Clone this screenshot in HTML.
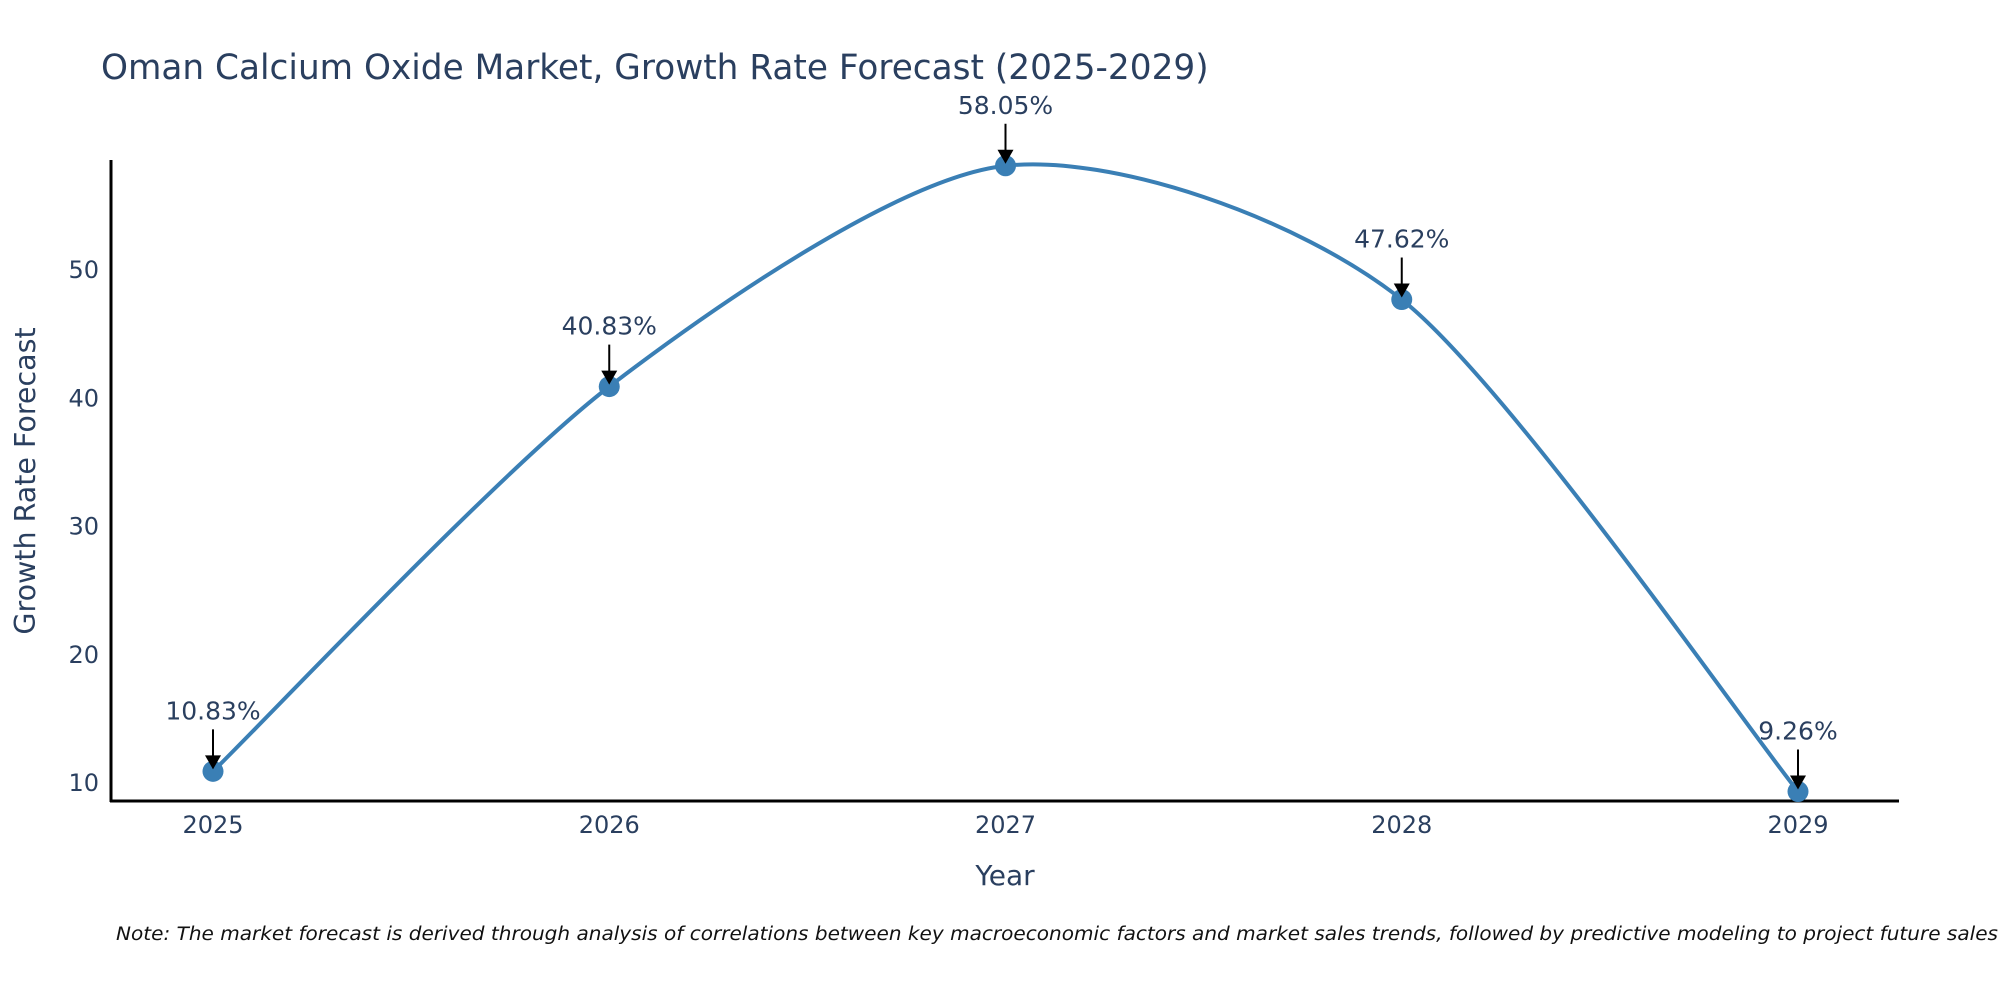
<!DOCTYPE html>
<html><head><meta charset="utf-8"><style>
html,body{margin:0;padding:0;background:#fff;}
svg{display:block;font-family:"DejaVu Sans","Liberation Sans",sans-serif;}
</style></head><body>
<svg id="chart" width="2000" height="1000" viewBox="0 0 2000 1000">
<text x="101" y="79" font-size="34.3" fill="#2a3f5f">Oman Calcium Oxide Market, Growth Rate Forecast (2025-2029)</text>
<g id="yticks"></g>
<g id="xticks"></g>
<line x1="111" y1="160" x2="111" y2="802" stroke="#000" stroke-width="3"/>
<line x1="110" y1="801" x2="1899" y2="801" stroke="#000" stroke-width="3"/>
<path id="line" fill="none" stroke="#3a7fb5" stroke-width="4"/>
<g id="points"></g>
<g id="annots"></g>
<text x="1005" y="885" font-size="28" fill="#2a3f5f" text-anchor="middle">Year</text>
<text transform="translate(35,481) rotate(-90)" font-size="28.5" fill="#2a3f5f" text-anchor="middle">Growth Rate Forecast</text>
<text x="116" y="940" font-size="18.5" font-style="italic" fill="#111" textLength="1882" lengthAdjust="spacingAndGlyphs">Note: The market forecast is derived through analysis of correlations between key macroeconomic factors and market sales trends, followed by predictive modeling to project future sales</text>
</svg>
<script>
const years = ["2025","2026","2027","2028","2029"];
const values = [10.83, 40.83, 58.05, 47.62, 9.26];
const labels = ["10.83%","40.83%","58.05%","47.62%","9.26%"];
const yTicks = [10,20,30,40,50];

const NS="http://www.w3.org/2000/svg";
function X(i){return 213 + i*(1798-213)/(years.length-1);}
function Y(v){return 782 - (v-10)*12.825;}
function mk(tag,attrs,parent){const e=document.createElementNS(NS,tag);for(const k in attrs)e.setAttribute(k,attrs[k]);parent.appendChild(e);return e;}

const yt=document.getElementById('yticks');
yTicks.forEach(t=>{
  const e=mk('text',{x:99,y:Y(t)+9,'font-size':24,fill:'#2a3f5f','text-anchor':'end'},yt);
  
  
  e.textContent=t;
});
const xt=document.getElementById('xticks');
years.forEach((y,i)=>{
  const e=mk('text',{x:X(i),y:833,'font-size':24,fill:'#2a3f5f','text-anchor':'middle'},xt);
  
  
  e.textContent=y;
});

const P=values.map((v,i)=>[X(i),Y(v)]);
const k=1/7.5;
let d=`M${P[0][0]},${P[0][1]}`;
for(let i=0;i<P.length-1;i++){
  const p0=P[Math.max(i-1,0)],p1=P[i],p2=P[i+1],p3=P[Math.min(i+2,P.length-1)];
  const c1=[p1[0]+(p2[0]-p0[0])*k,p1[1]+(p2[1]-p0[1])*k];
  const c2=[p2[0]-(p3[0]-p1[0])*k,p2[1]-(p3[1]-p1[1])*k];
  d+=` C${c1[0]},${c1[1]} ${c2[0]},${c2[1]} ${p2[0]},${p2[1]}`;
}
document.getElementById('line').setAttribute('d',d);

const pts=document.getElementById('points');
const an=document.getElementById('annots');
P.forEach((p,i)=>{
  const c=mk('circle',{cx:p[0],cy:p[1],r:10.5,fill:'#3a7fb5'},pts);
  
  
  const g=mk('g',{},an);
  
  
  mk('line',{x1:p[0],y1:p[1]-42,x2:p[0],y2:p[1]-14,stroke:'#000','stroke-width':2},g);
  mk('path',{d:`M${p[0]-8},${p[1]-16} L${p[0]+8},${p[1]-16} L${p[0]},${p[1]-2} Z`,fill:'#000'},g);
  const t=mk('text',{x:p[0],y:p[1]-52,'font-size':25,fill:'#2a3f5f','text-anchor':'middle'},g);
  t.textContent=labels[i];
});
</script>
</body></html>
